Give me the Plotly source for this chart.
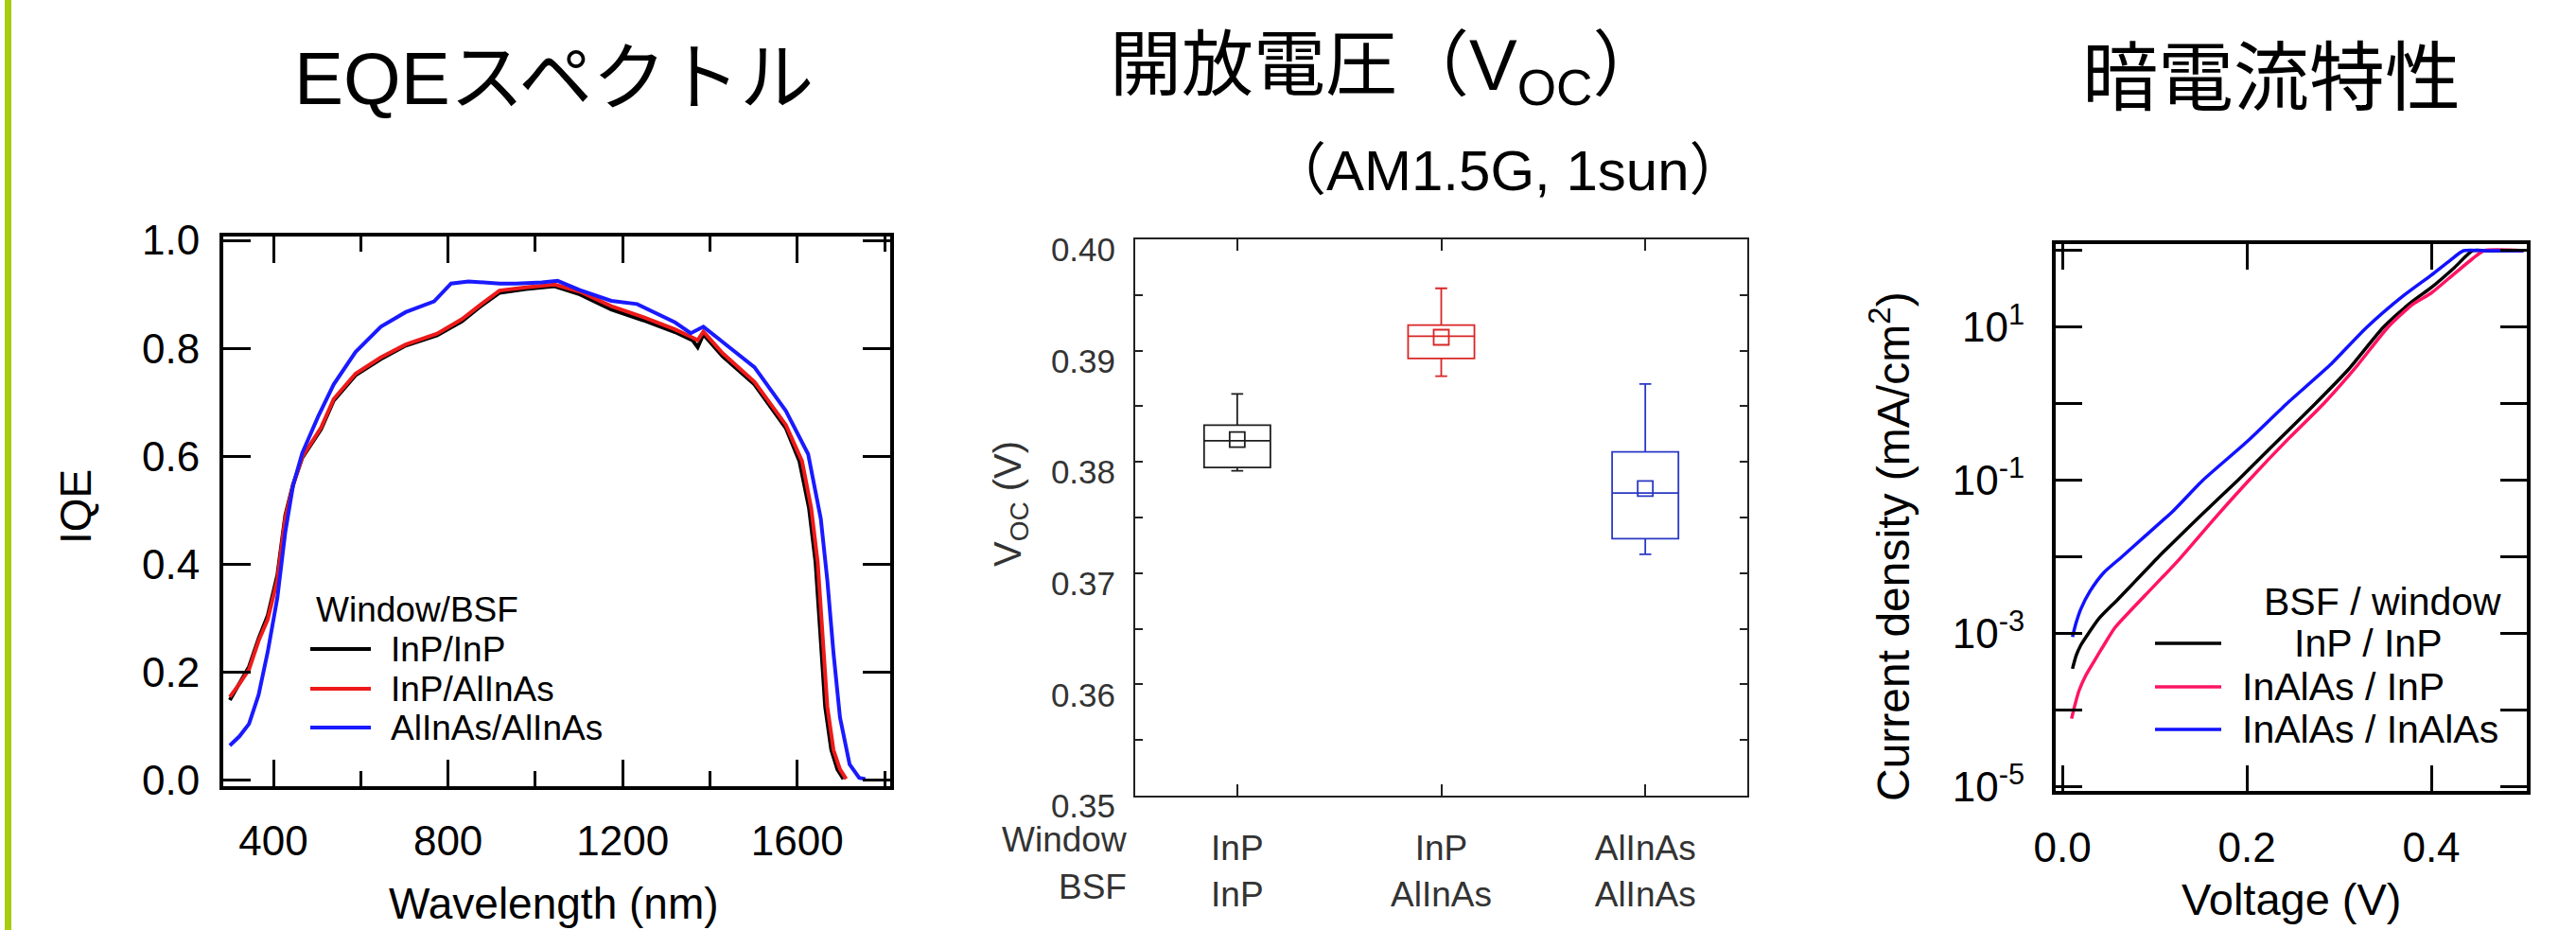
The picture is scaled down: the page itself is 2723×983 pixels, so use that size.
import plotly.graph_objects as go

# ---------------- data: EQE / IQE spectra ----------------
wl_inp_inp = [300, 320, 344, 366, 387, 409, 427, 445, 466, 509, 538, 588, 646, 703, 775, 832, 870, 918,
              978, 1044, 1102, 1174, 1247, 1320, 1360, 1372, 1385, 1429, 1502, 1574, 1605, 1627, 1642,
              1653, 1664, 1678, 1692, 1706]
iqe_inp_inp = [0.148, 0.175, 0.210, 0.262, 0.305, 0.380, 0.490, 0.548, 0.597, 0.650, 0.703, 0.750, 0.780,
               0.805, 0.824, 0.850, 0.875, 0.903, 0.910, 0.915, 0.900, 0.872, 0.852, 0.830, 0.815, 0.802,
               0.826, 0.785, 0.733, 0.652, 0.591, 0.504, 0.403, 0.270, 0.136, 0.056, 0.020, 0.002]

wl_inp_alinas = [300, 322, 344, 366, 387, 409, 427, 445, 466, 509, 538, 588, 646, 703, 775, 832, 870, 918,
                 978, 1044, 1102, 1174, 1247, 1320, 1360, 1372, 1385, 1429, 1502, 1574, 1611, 1632, 1647,
                 1658, 1669, 1683, 1698, 1712]
iqe_inp_alinas = [0.154, 0.178, 0.205, 0.258, 0.298, 0.372, 0.486, 0.546, 0.599, 0.653, 0.706, 0.753, 0.783,
                  0.807, 0.827, 0.854, 0.878, 0.907, 0.913, 0.918, 0.905, 0.878, 0.858, 0.835, 0.820, 0.815,
                  0.831, 0.791, 0.738, 0.658, 0.591, 0.504, 0.403, 0.270, 0.136, 0.056, 0.020, 0.002]

wl_alinas_alinas = [300, 322, 344, 366, 387, 409, 427, 445, 466, 502, 538, 588, 646, 703, 768, 807, 847, 918,
                    956, 1015, 1051, 1102, 1174, 1233, 1320, 1356, 1385, 1429, 1502, 1574, 1625, 1654, 1669,
                    1683, 1698, 1720, 1742, 1756]
iqe_alinas_alinas = [0.064, 0.081, 0.104, 0.158, 0.238, 0.338, 0.459, 0.546, 0.606, 0.673, 0.733, 0.793, 0.840,
                     0.867, 0.887, 0.920, 0.924, 0.920, 0.920, 0.922, 0.925, 0.908, 0.888, 0.882, 0.848, 0.828,
                     0.840, 0.811, 0.765, 0.684, 0.604, 0.484, 0.370, 0.236, 0.116, 0.029, 0.004, 0.002]

# ---------------- data: Voc box statistics ----------------
voc_pos = [1, 2, 3]
voc_ticktext = ["InP<br>InP", "InP<br>AlInAs", "AlInAs<br>AlInAs"]
voc_lower = [0.3792, 0.3877, 0.3717]
voc_q1 = [0.3795, 0.3893, 0.3731]
voc_median = [0.3819, 0.3913, 0.3772]
voc_q3 = [0.3833, 0.3923, 0.3809]
voc_upper = [0.3861, 0.3956, 0.3870]
voc_mean = [0.3820, 0.3912, 0.3776]
voc_colors = ["#1e1e1e", "#d92626", "#2b38c4"]

# ---------------- data: dark J-V ----------------
v_inp_inp = [0.011, 0.015, 0.020, 0.028, 0.040, 0.060, 0.080, 0.104, 0.150, 0.190, 0.230, 0.274, 0.310,
             0.348, 0.380, 0.400, 0.425, 0.445, 0.460, 0.500]
j_inp_inp = [3.5e-4, 5.2e-4, 7.1e-4, 1.0e-3, 1.6e-3, 2.8e-3, 5.0e-3, 1.0e-2, 3.5e-2, 0.10, 0.30, 1.0, 2.8,
             10, 22, 33, 60, 100, 100, 100]

v_inalas_inp = [0.010, 0.013, 0.018, 0.025, 0.035, 0.045, 0.057, 0.090, 0.125, 0.165, 0.202, 0.245, 0.283,
                0.320, 0.353, 0.380, 0.400, 0.425, 0.445, 0.457, 0.500]
j_inalas_inp = [7.8e-5, 1.1e-4, 1.8e-4, 2.8e-4, 4.5e-4, 7.1e-4, 1.2e-3, 3.2e-3, 8.9e-3, 3.2e-2, 0.10, 0.35,
                1.0, 3.2, 10, 20, 28, 50, 79, 100, 100]

v_inalas_inalas = [0.011, 0.015, 0.020, 0.030, 0.045, 0.064, 0.090, 0.120, 0.152, 0.200, 0.243, 0.290, 0.330,
                   0.370, 0.400, 0.420, 0.435, 0.460, 0.500]
j_inalas_inalas = [9.1e-4, 1.4e-3, 2.1e-3, 3.6e-3, 6.3e-3, 1.0e-2, 1.9e-2, 4.0e-2, 0.10, 0.32, 1.0, 3.2, 10,
                   26, 48, 74, 100, 100, 100]

log_label_vals = [1e-5, 1e-3, 1e-1, 1e1]
log_label_text = ["10<sup>-5</sup>", "10<sup>-3</sup>", "10<sup>-1</sup>", "10<sup>1</sup>"]
log_minor_vals = [1e-4, 1e-2, 1e0, 1e2]

# ---------------- layout helpers ----------------
W, H = 2723, 983
FONT = "Liberation Sans, Arial, Noto Sans CJK JP, sans-serif"


def px(x):
    return x / W


def py(y):
    return 1 - y / H


fig = go.Figure()

# Panel 1: IQE
fig.add_trace(go.Scatter(x=wl_inp_inp, y=iqe_inp_inp, mode="lines", line=dict(color="#000000", width=4),
                         xaxis="x", yaxis="y", showlegend=False))
fig.add_trace(go.Scatter(x=wl_inp_alinas, y=iqe_inp_alinas, mode="lines", line=dict(color="#ee1a1a", width=4),
                         xaxis="x", yaxis="y", showlegend=False))
fig.add_trace(go.Scatter(x=wl_alinas_alinas, y=iqe_alinas_alinas, mode="lines",
                         line=dict(color="#1a1aff", width=4), xaxis="x", yaxis="y", showlegend=False))

# Panel 2: Voc boxes
for i in range(3):
    fig.add_trace(go.Box(x=[voc_pos[i]], q1=[voc_q1[i]], median=[voc_median[i]], q3=[voc_q3[i]],
                         lowerfence=[voc_lower[i]], upperfence=[voc_upper[i]],
                         xaxis="x2", yaxis="y2", line=dict(color=voc_colors[i], width=1.8),
                         fillcolor="rgba(0,0,0,0)", width=0.325, whiskerwidth=0.18,
                         boxpoints=False, showlegend=False, hoverinfo="skip"))
fig.add_trace(go.Scatter(x=voc_pos, y=voc_mean, mode="markers", xaxis="x2", yaxis="y2", showlegend=False,
                         marker=dict(symbol="square-open", size=16, color=voc_colors,
                                     line=dict(width=1.8, color=voc_colors))))

# Panel 3: dark J-V
fig.add_trace(go.Scatter(x=v_inp_inp, y=j_inp_inp, mode="lines", line=dict(color="#000000", width=3.5,
                         shape="spline", smoothing=0.6), xaxis="x3", yaxis="y3", showlegend=False))
fig.add_trace(go.Scatter(x=v_inalas_inp, y=j_inalas_inp, mode="lines", line=dict(color="#ff1464", width=3.5,
                         shape="spline", smoothing=0.6), xaxis="x3", yaxis="y3", showlegend=False))
fig.add_trace(go.Scatter(x=v_inalas_inalas, y=j_inalas_inalas, mode="lines",
                         line=dict(color="#1212ff", width=3.5, shape="spline", smoothing=0.6),
                         xaxis="x3", yaxis="y3", showlegend=False))

common = dict(showgrid=False, zeroline=False, showline=True, mirror="ticks", ticks="inside", automargin=False)

fig.update_layout(
    width=W, height=H, margin=dict(l=0, r=0, t=0, b=0, pad=0, autoexpand=False),
    paper_bgcolor="white", plot_bgcolor="white", showlegend=False,
    font=dict(family=FONT, color="#000000"),
    xaxis=dict(domain=[px(236), px(941)], anchor="y", range=[285, 1813], tick0=0, dtick=400,
               ticklen=28, tickwidth=3, linewidth=4, linecolor="#000000", tickcolor="#000000",
               tickfont=dict(size=44), ticklabelstandoff=16,
               minor=dict(ticks="inside", ticklen=16, tickwidth=3, dtick=200, tick0=0, tickcolor="#000000"),
               **common),
    yaxis=dict(domain=[py(831), py(249.5)], anchor="x", range=[-0.0114, 1.008], tick0=0, dtick=0.2,
               tickformat=".1f", ticklen=29, tickwidth=3, linewidth=4, linecolor="#000000",
               tickcolor="#000000", tickfont=dict(size=44), ticklabelstandoff=12, **common),
    xaxis2=dict(domain=[px(1200), px(1847)], anchor="y2", range=[0.5, 3.5], tickvals=voc_pos,
                ticktext=voc_ticktext, ticklen=12, tickwidth=1.5, linewidth=2, linecolor="#222222",
                tickcolor="#222222", tickfont=dict(size=37, color="#333333"), ticklabelstandoff=22,
                **common),
    yaxis2=dict(domain=[py(841), py(253)], anchor="x2", range=[0.35, 0.40], tick0=0, dtick=0.01,
                tickformat=".2f", ticklen=8, tickwidth=1.5, linewidth=2, linecolor="#222222",
                tickcolor="#222222", tickfont=dict(size=35, color="#333333"), ticklabelstandoff=12,
                ticklabelshift=11,
                minor=dict(ticks="inside", ticklen=8, tickwidth=1.5, dtick=0.005, tick0=0, tickcolor="#222222"),
                **common),
    xaxis3=dict(domain=[px(2173), px(2671)], anchor="y3", range=[-0.0072, 0.5036], tick0=0, dtick=0.2,
                tickformat=".1f", ticklen=27, tickwidth=3, linewidth=4, linecolor="#000000",
                tickcolor="#000000", tickfont=dict(size=44), ticklabelstandoff=18, **common),
    yaxis3=dict(domain=[py(836), py(258)], anchor="x3", type="log", range=[-5.05, 2.086],
                tickvals=log_label_vals, ticktext=log_label_text, ticklen=28, tickwidth=3, linewidth=4,
                linecolor="#000000", tickcolor="#000000", tickfont=dict(size=44), ticklabelstandoff=20,
                minor=dict(ticks="inside", tickvals=log_minor_vals, ticklen=28, tickwidth=3, tickcolor="#000000"),
                **common),
)

ann = []


def text(x, y, s, size, color="#000000", xanchor="center", angle=0):
    ann.append(dict(x=px(x), y=py(y), xref="paper", yref="paper", text=s, showarrow=False,
                    xanchor=xanchor, yanchor="middle", textangle=angle,
                    font=dict(size=size, color=color, family=FONT)))


# titles
text(585, 83, "EQEスペクトル", 78)
text(1466, 74, "開放電圧（V<sub>OC</sub>）", 76)
text(1594, 180, "（AM1.5G, 1sun）", 60)
text(2401, 83, "暗電流特性", 80)

# axis titles
text(80, 536, "IQE", 46, angle=-90)
text(585, 955, "Wavelength (nm)", 46)
text(1068, 533, "V<sub>OC</sub> (V)", 40, color="#333333", angle=-90)
text(1193, 887, "Window", 37, color="#333333", xanchor="right")
text(1193, 937, "BSF", 37, color="#333333", xanchor="right")
text(1998, 577, "Current density (mA/cm<sup>2</sup>)", 48, angle=-90)
text(2422, 950, "Voltage (V)", 47)

# legend panel 1
text(332, 644, "Window/BSF", 37, xanchor="left")
leg1 = [("InP/InP", "#000000", 686), ("InP/AlInAs", "#ee1a1a", 728), ("AlInAs/AlInAs", "#1a1aff", 769)]
shapes = []
for name, col, yy in leg1:
    text(411, yy, name, 37, xanchor="left")
    shapes.append(dict(type="line", xref="paper", yref="paper", x0=px(328), x1=px(392), y0=py(yy), y1=py(yy),
                       line=dict(color=col, width=4)))

# legend panel 3
text(2646, 636, "BSF / window", 41, xanchor="right")
leg3 = [("InP / InP", "#000000", 680, 2423), ("InAlAs / InP", "#ff1464", 726, 2368),
        ("InAlAs / InAlAs", "#1212ff", 771, 2368)]
for name, col, yy, xx in leg3:
    text(xx, yy, name, 41, xanchor="left")
    shapes.append(dict(type="line", xref="paper", yref="paper", x0=px(2278), x1=px(2348), y0=py(yy), y1=py(yy),
                       line=dict(color=col, width=3.5)))

# green accent bar at the left edge
shapes.append(dict(type="rect", xref="paper", yref="paper", x0=px(5), x1=px(12), y0=0, y1=1,
                   line=dict(width=0), fillcolor="#a8cc10"))

fig.update_layout(annotations=ann, shapes=shapes)
fig.write_html("out.html", config={"displayModeBar": False},
               post_script="document.body.style.margin='0';document.body.style.overflow='hidden';")
